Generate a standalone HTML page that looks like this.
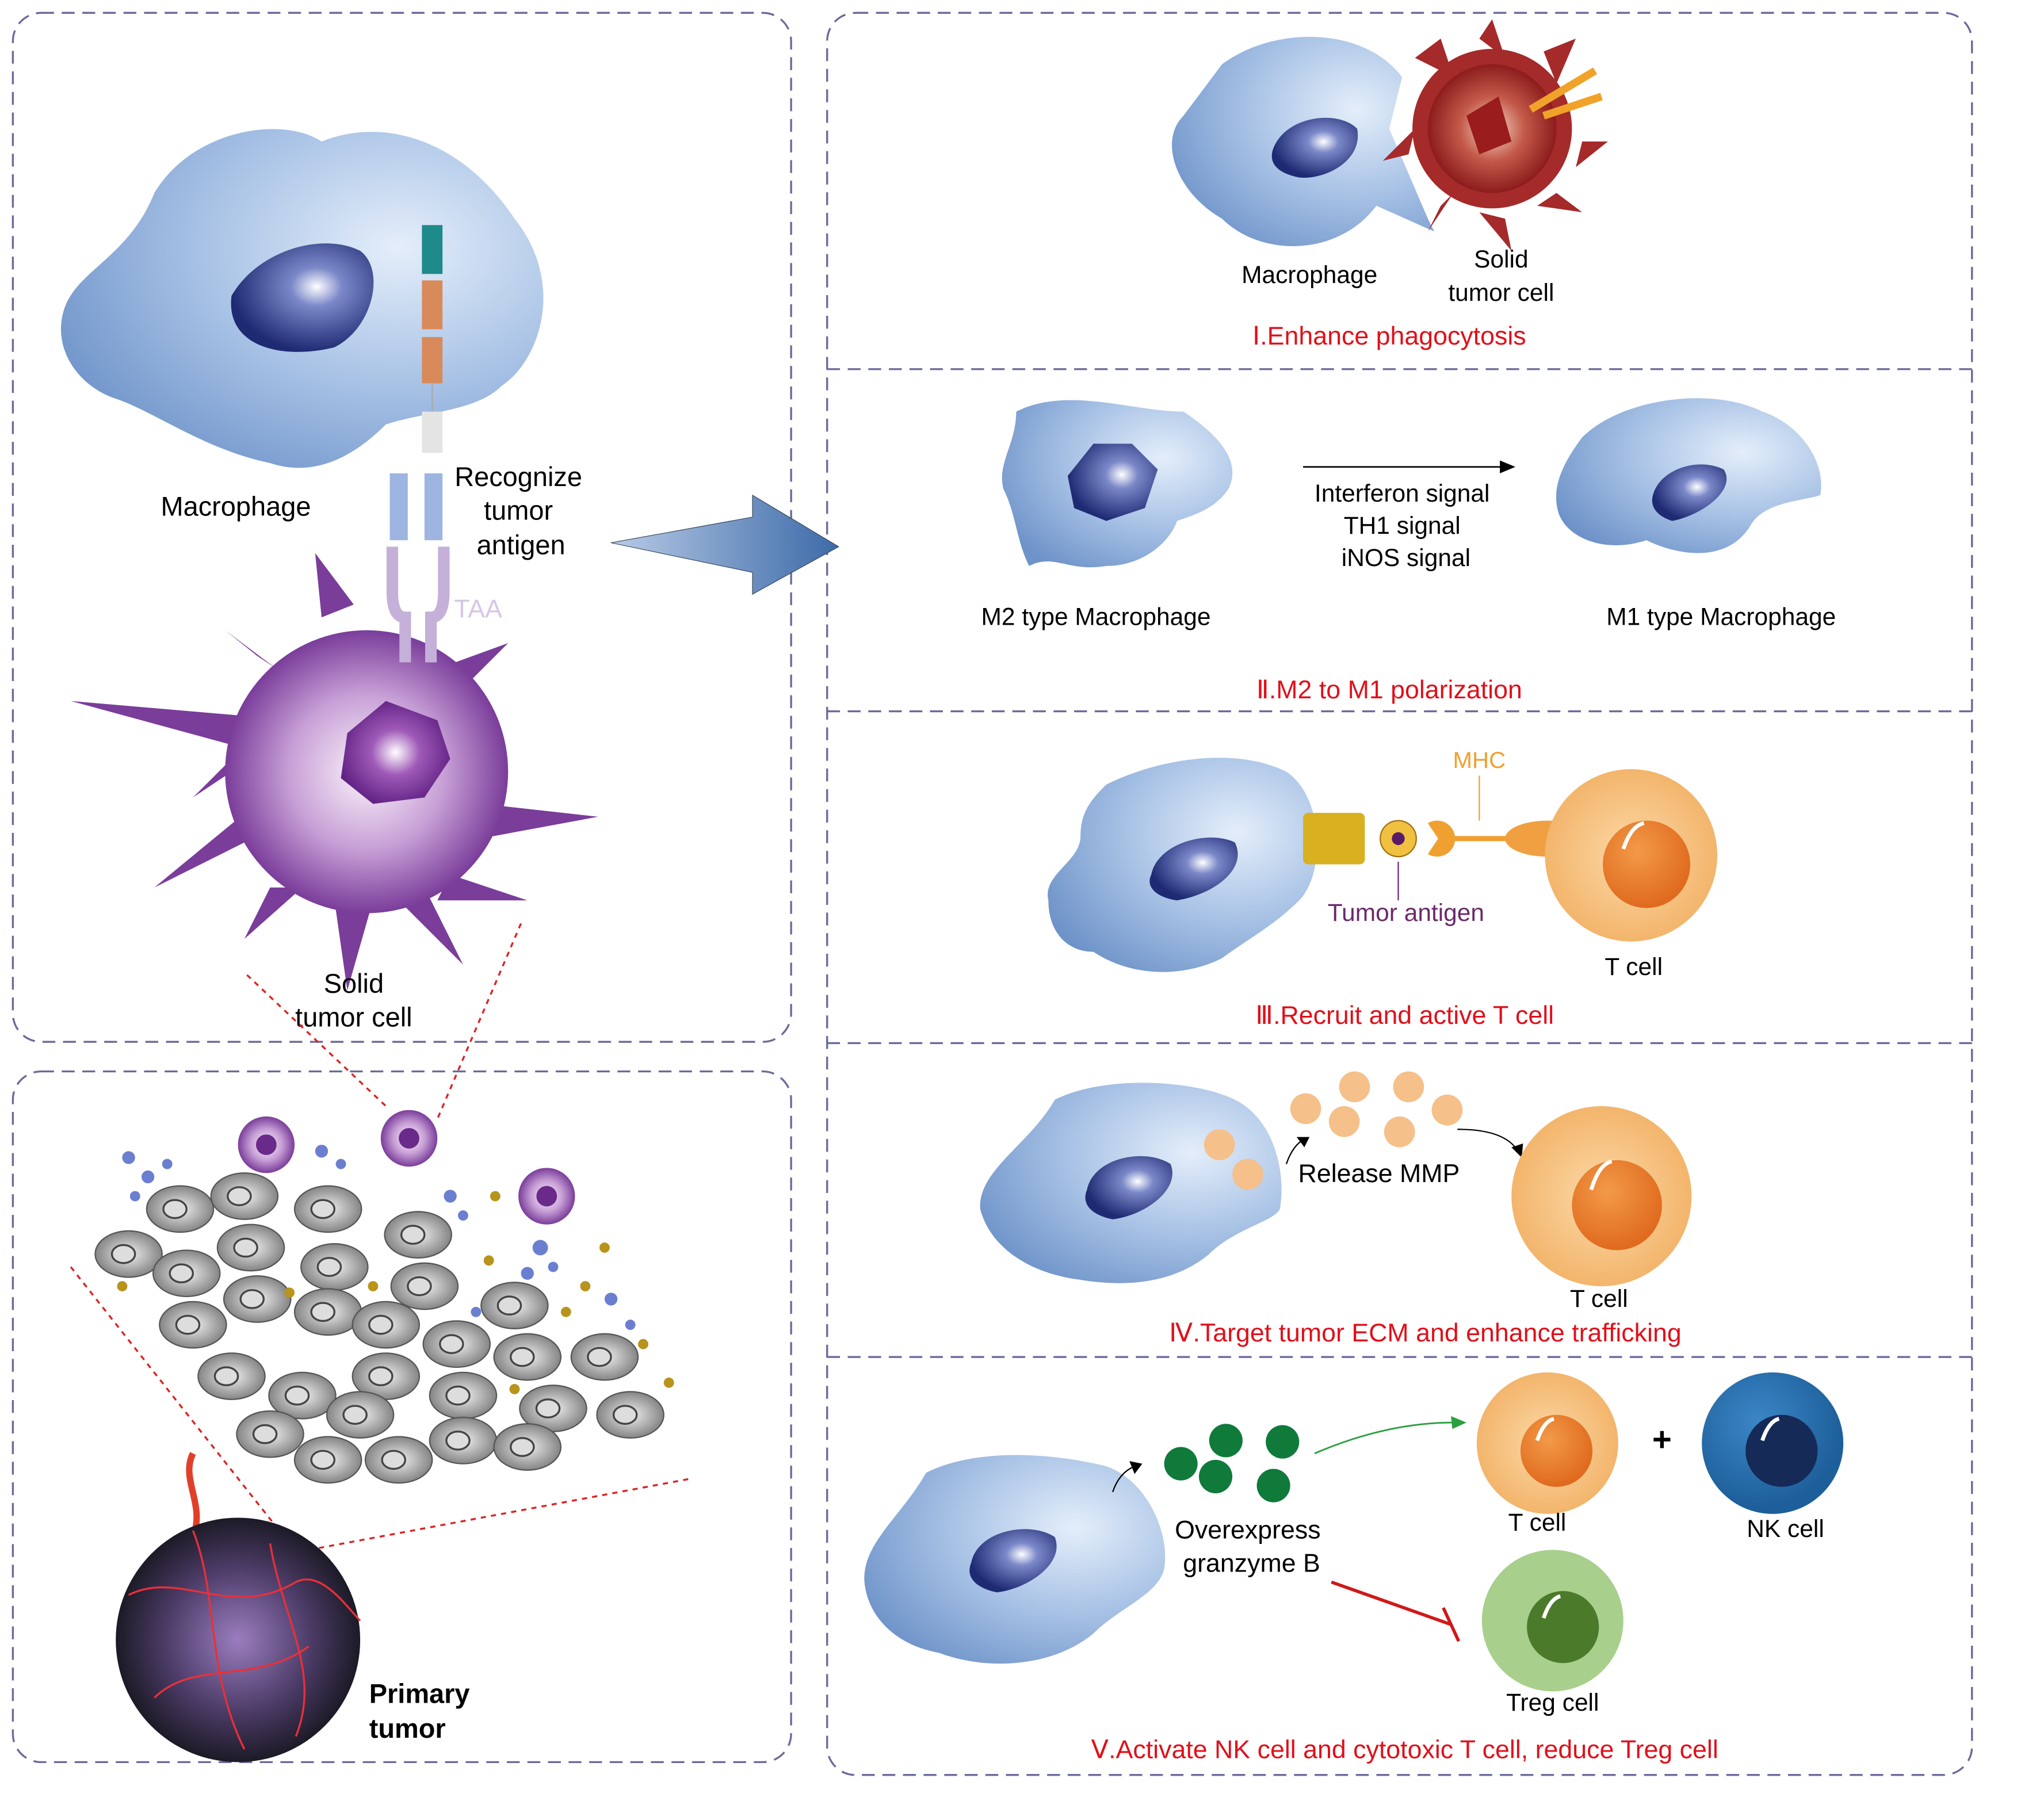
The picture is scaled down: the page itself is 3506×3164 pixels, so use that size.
<!DOCTYPE html>
<html><head><meta charset="utf-8"><style>
html,body{margin:0;padding:0;background:#fff;}
svg{display:block;}
text{font-family:"Liberation Sans",Arial,sans-serif;}
</style></head><body>
<svg width="3506" height="3164" viewBox="0 0 1568 1415" preserveAspectRatio="none" xmlns="http://www.w3.org/2000/svg">
<defs>
<radialGradient id="mac" cx="0.7" cy="0.35" r="0.8"><stop offset="0" stop-color="#e4eefa"/><stop offset="0.5" stop-color="#a9c3e6"/><stop offset="1" stop-color="#6e93c9"/></radialGradient>
<radialGradient id="nuc" cx="0.6" cy="0.4" r="0.6"><stop offset="0" stop-color="#ffffff"/><stop offset="0.3" stop-color="#7a87c8"/><stop offset="1" stop-color="#1e2a72"/></radialGradient>
<radialGradient id="tum" cx="0.5" cy="0.5" r="0.5"><stop offset="0" stop-color="#fbf4fb"/><stop offset="0.55" stop-color="#c79fd6"/><stop offset="1" stop-color="#7a3d9a"/></radialGradient>
<radialGradient id="tnuc" cx="0.5" cy="0.5" r="0.55"><stop offset="0" stop-color="#ffffff"/><stop offset="0.4" stop-color="#a05ab8"/><stop offset="1" stop-color="#5c1e80"/></radialGradient>
<radialGradient id="red" cx="0.5" cy="0.5" r="0.5"><stop offset="0" stop-color="#f3d9cc"/><stop offset="0.5" stop-color="#c45a4a"/><stop offset="1" stop-color="#8c1c1c"/></radialGradient>
<radialGradient id="tc" cx="0.5" cy="0.5" r="0.5"><stop offset="0" stop-color="#fbd9a8"/><stop offset="1" stop-color="#f3b56c"/></radialGradient>
<radialGradient id="tcn" cx="0.4" cy="0.35" r="0.65"><stop offset="0" stop-color="#f29a48"/><stop offset="1" stop-color="#e06a1e"/></radialGradient>
<radialGradient id="nk" cx="0.4" cy="0.35" r="0.6"><stop offset="0" stop-color="#3b86c6"/><stop offset="1" stop-color="#1d5f9a"/></radialGradient>
<radialGradient id="gr" cx="0.5" cy="0.5" r="0.55"><stop offset="0" stop-color="#f0f0f0"/><stop offset="1" stop-color="#7a7a7a"/></radialGradient>
<radialGradient id="pt" cx="0.5" cy="0.5" r="0.5"><stop offset="0" stop-color="#9b7dbf"/><stop offset="0.6" stop-color="#4b3b66"/><stop offset="1" stop-color="#1c1a26"/></radialGradient>
<linearGradient id="arr" x1="0" y1="0" x2="1" y2="0"><stop offset="0" stop-color="#b8cbe6"/><stop offset="1" stop-color="#3d6aa8"/></linearGradient>
<g id="gcell"><ellipse cx="0" cy="0" rx="26" ry="18" fill="url(#gr)" stroke="#555" stroke-width="1"/><ellipse cx="-4" cy="0" rx="9" ry="7" fill="#ddd" stroke="#444" stroke-width="1.5"/></g>
</defs>

<!-- panels -->
<g fill="none" stroke="#6a6a9a" stroke-width="1.5" stroke-dasharray="10,6">
<rect x="10" y="10" width="605" height="800" rx="22"/>
<rect x="10" y="833" width="605" height="537" rx="22"/>
<rect x="643" y="10" width="890" height="1370" rx="22"/>
<line x1="643" y1="287" x2="1533" y2="287"/>
<line x1="643" y1="553" x2="1533" y2="553"/>
<line x1="643" y1="811" x2="1533" y2="811"/>
<line x1="643" y1="1055" x2="1533" y2="1055"/>
</g>

<!-- left top macrophage -->
<path d="M120,150 C150,100 220,90 250,110 C300,90 360,110 400,170 C440,220 420,280 390,300 C370,320 330,320 300,330 C270,360 240,370 210,360 C160,350 120,320 90,310 C60,300 40,270 50,240 C60,210 100,200 120,150Z" fill="url(#mac)"/>
<path d="M180,230 C200,195 250,180 280,195 C300,210 290,255 260,270 C220,280 175,270 180,230Z" fill="url(#nuc)"/>
<!-- receptor -->
<rect x="328" y="175" width="16" height="38" fill="#1e8a8a"/>
<rect x="328" y="218" width="16" height="38" fill="#d98a5a"/>
<rect x="328" y="262" width="16" height="36" fill="#d98a5a"/>
<line x1="336" y1="298" x2="336" y2="320" stroke="#aaa"/>
<rect x="328" y="320" width="16" height="32" fill="#e4e4e4"/>
<rect x="303" y="368" width="14" height="52" fill="#9db5e0"/>
<rect x="330" y="368" width="14" height="52" fill="#9db5e0"/>
<!-- solid tumor cell -->
<g fill="#7a3d9a">
<path d="M55,545 L230,560 L220,590Z"/>
<path d="M330,620 L465,635 L330,660Z"/>
<path d="M250,480 L245,430 L275,470Z"/>
<path d="M200,510 L175,490 L215,520Z"/>
<path d="M340,520 L395,500 L350,545Z"/>
<path d="M350,680 L410,700 L340,700Z"/>
<path d="M330,690 L360,750 L310,700Z"/>
<path d="M260,700 L270,770 L290,700Z"/>
<path d="M210,690 L190,730 L235,690Z"/>
<path d="M200,650 L120,690 L205,620Z"/>
<path d="M195,590 L150,620 L200,570Z"/>
</g>
<circle cx="285" cy="600" r="110" fill="url(#tum)"/>
<path d="M270,570 L300,545 L340,560 L350,590 L330,620 L290,625 L265,605Z" fill="url(#tnuc)"/>
<!-- TAA -->
<path d="M305,425 L305,460 Q305,480 315,480 L315,515 M345,425 L345,460 Q345,480 335,480 L335,515" stroke="#c4b0d8" stroke-width="9" fill="none"/>
<text x="353" y="480" font-size="20" fill="#d6c6e6">TAA</text>
<text x="125" y="401" font-size="21">Macrophage</text>
<text x="403" y="378" font-size="21" text-anchor="middle">Recognize</text>
<text x="403" y="404" font-size="21" text-anchor="middle">tumor</text>
<text x="405" y="431" font-size="21" text-anchor="middle">antigen</text>
<text x="275" y="772" font-size="21" text-anchor="middle">Solid</text>
<text x="275" y="798" font-size="21" text-anchor="middle">tumor cell</text>
<!-- big arrow -->
<path d="M475,422 L585,402 L585,385 L652,425 L585,462 L585,445Z" fill="url(#arr)" stroke="#345" stroke-width="0.5"/>
<!-- dotted red lines -->
<g stroke="#d22" stroke-width="1.5" stroke-dasharray="4,4" fill="none">
<line x1="192" y1="758" x2="300" y2="860"/><line x1="405" y1="718" x2="340" y2="870"/>
<line x1="55" y1="985" x2="225" y2="1200"/><line x1="535" y1="1150" x2="240" y2="1205"/>
</g>

<!-- bottom left tissue -->
<g>
<use href="#gcell" x="100" y="975"/><use href="#gcell" x="145" y="990"/><use href="#gcell" x="190" y="930"/><use href="#gcell" x="140" y="940"/>
<use href="#gcell" x="255" y="940"/><use href="#gcell" x="195" y="970"/><use href="#gcell" x="260" y="985"/><use href="#gcell" x="325" y="960"/>
<use href="#gcell" x="150" y="1030"/><use href="#gcell" x="200" y="1010"/><use href="#gcell" x="255" y="1020"/><use href="#gcell" x="330" y="1000"/>
<use href="#gcell" x="400" y="1015"/><use href="#gcell" x="300" y="1030"/><use href="#gcell" x="180" y="1070"/><use href="#gcell" x="235" y="1085"/>
<use href="#gcell" x="300" y="1070"/><use href="#gcell" x="355" y="1045"/><use href="#gcell" x="410" y="1055"/><use href="#gcell" x="470" y="1055"/>
<use href="#gcell" x="210" y="1115"/><use href="#gcell" x="280" y="1100"/><use href="#gcell" x="360" y="1085"/><use href="#gcell" x="430" y="1095"/>
<use href="#gcell" x="490" y="1100"/><use href="#gcell" x="255" y="1135"/><use href="#gcell" x="310" y="1135"/><use href="#gcell" x="360" y="1120"/><use href="#gcell" x="410" y="1125"/>
</g>
<g fill="#b8941c"><circle cx="95" cy="1000" r="4"/><circle cx="225" cy="1005" r="4"/><circle cx="290" cy="1000" r="4"/><circle cx="380" cy="980" r="4"/><circle cx="440" cy="1020" r="4"/><circle cx="470" cy="970" r="4"/><circle cx="500" cy="1045" r="4"/><circle cx="520" cy="1075" r="4"/><circle cx="385" cy="930" r="4"/><circle cx="455" cy="1000" r="4"/><circle cx="400" cy="1080" r="4"/><circle cx="335" cy="890" r="4"/></g>
<g fill="#6b7fd0"><circle cx="100" cy="900" r="5"/><circle cx="115" cy="915" r="5"/><circle cx="130" cy="905" r="4"/><circle cx="105" cy="930" r="4"/><circle cx="350" cy="930" r="5"/><circle cx="360" cy="945" r="4"/><circle cx="420" cy="970" r="6"/><circle cx="410" cy="990" r="5"/><circle cx="430" cy="985" r="4"/><circle cx="475" cy="1010" r="5"/><circle cx="490" cy="1030" r="4"/><circle cx="370" cy="1020" r="4"/><circle cx="250" cy="895" r="5"/><circle cx="265" cy="905" r="4"/></g>
<g><circle cx="207" cy="890" r="22" fill="url(#tum)"/><circle cx="207" cy="890" r="8" fill="#6a2a8a"/>
<circle cx="318" cy="885" r="22" fill="url(#tum)"/><circle cx="318" cy="885" r="8" fill="#6a2a8a"/>
<circle cx="425" cy="930" r="22" fill="url(#tum)"/><circle cx="425" cy="930" r="8" fill="#6a2a8a"/></g>
<!-- primary tumor -->
<path d="M150,1130 C140,1150 160,1170 150,1195" stroke="#e0402a" stroke-width="5" fill="none"/>
<circle cx="185" cy="1275" r="95" fill="url(#pt)"/>
<g stroke="#e8303a" stroke-width="1.5" fill="none"><path d="M100,1240 C140,1220 180,1260 230,1230 C250,1220 270,1250 280,1260"/><path d="M120,1320 C150,1290 200,1310 240,1280"/><path d="M150,1190 C170,1240 160,1300 190,1360"/><path d="M210,1200 C220,1260 250,1300 230,1350"/></g>
<text x="287" y="1324" font-size="21" font-weight="bold">Primary</text>
<text x="287" y="1351" font-size="21" font-weight="bold">tumor</text>

<!-- I -->
<path d="M950,50 C990,20 1060,20 1090,60 L1080,100 L1110,170 L1115,180 L1070,160 C1040,200 980,200 950,170 C915,150 900,110 920,90 Z" fill="url(#mac)"/>
<path d="M990,115 C1000,90 1040,85 1055,100 C1060,125 1030,140 1010,138 C995,135 985,128 990,115Z" fill="url(#nuc)"/>
<g fill="#a52a2a"><circle cx="1160" cy="100" r="62"/>
<path d="M1100,45 L1120,30 L1130,60Z M1150,30 L1160,15 L1170,45Z M1200,40 L1225,30 L1210,65Z M1230,110 L1250,110 L1225,130Z M1210,150 L1230,165 L1195,160Z M1170,170 L1175,195 L1150,165Z M1120,160 L1110,180 L1130,150Z M1095,120 L1075,125 L1100,100Z"/></g>
<circle cx="1160" cy="100" r="50" fill="url(#red)"/>
<path d="M1140,90 L1165,75 L1175,110 L1150,120Z" fill="#9a1c1c"/>
<path d="M1190,85 L1240,55 M1200,90 L1245,75" stroke="#f1a22a" stroke-width="6"/>
<text x="1018" y="220" font-size="19" text-anchor="middle">Macrophage</text>
<text x="1167" y="208" font-size="19" text-anchor="middle">Solid</text>
<text x="1167" y="234" font-size="19" text-anchor="middle">tumor cell</text>
<text x="1080" y="268" font-size="20" fill="#e0101a" text-anchor="middle">Ⅰ.Enhance phagocytosis</text>

<!-- II -->
<path d="M790,320 C830,300 880,320 920,320 C950,340 965,360 955,380 C945,395 930,400 915,405 C910,420 890,440 860,440 C830,445 820,430 800,440 C790,420 790,400 780,380 C775,360 790,345 790,320Z" fill="url(#mac)"/>
<path d="M830,370 L850,345 L880,345 L900,365 L890,395 L860,405 L835,395Z" fill="url(#nuc)"/>
<path d="M1230,340 C1260,310 1330,300 1370,320 C1400,330 1420,360 1415,385 C1400,390 1370,390 1360,410 C1340,440 1300,430 1280,420 C1250,430 1220,420 1212,400 C1205,380 1215,360 1230,340Z" fill="url(#mac)"/>
<path d="M1285,385 C1290,365 1320,355 1340,365 C1350,380 1325,400 1300,405 C1290,402 1282,395 1285,385Z" fill="url(#nuc)"/>
<line x1="1013" y1="363" x2="1170" y2="363" stroke="#000" stroke-width="1.2"/>
<path d="M1178,363 L1166,358 L1166,368Z"/>
<text x="1090" y="390" font-size="19" text-anchor="middle">Interferon signal</text>
<text x="1090" y="415" font-size="19" text-anchor="middle">TH1 signal</text>
<text x="1093" y="440" font-size="19" text-anchor="middle">iNOS signal</text>
<text x="852" y="486" font-size="19" text-anchor="middle">M2 type Macrophage</text>
<text x="1338" y="486" font-size="19" text-anchor="middle">M1 type Macrophage</text>
<text x="1080" y="543" font-size="20" fill="#e0101a" text-anchor="middle">Ⅱ.M2 to M1 polarization</text>

<!-- III -->
<path d="M860,610 C900,590 960,580 1000,600 C1030,620 1030,680 1010,700 C990,720 970,730 950,745 C920,760 880,760 850,740 C830,740 815,725 815,700 C810,680 840,670 840,650 C840,630 850,620 860,610Z" fill="url(#mac)"/>
<path d="M895,680 C900,655 940,645 960,655 C970,675 945,695 915,700 C900,698 890,690 895,680Z" fill="url(#nuc)"/>
<rect x="1013" y="632" width="48" height="40" rx="4" fill="#d8b020"/>
<circle cx="1087" cy="652" r="14" fill="#f0c040" stroke="#a07010"/><circle cx="1087" cy="652" r="5" fill="#5a1a6a"/>
<path d="M1110,640 A14,14 0 1,1 1110,664 L1118,652Z" fill="#f0a030"/>
<line x1="1130" y1="652" x2="1175" y2="652" stroke="#f0a030" stroke-width="4"/>
<ellipse cx="1203" cy="652" rx="33" ry="14" fill="#f0a040"/>
<circle cx="1268" cy="665" r="67" fill="url(#tc)"/>
<circle cx="1280" cy="672" r="34" fill="url(#tcn)"/>
<path d="M1262,660 Q1268,642 1278,640" stroke="#fff" stroke-width="3" fill="none"/>
<text x="1150" y="597" font-size="18" fill="#f0a030" text-anchor="middle">MHC</text>
<line x1="1150" y1="603" x2="1150" y2="638" stroke="#f0a030"/>
<line x1="1087" y1="670" x2="1087" y2="700" stroke="#6a2a6a"/>
<text x="1093" y="716" font-size="19" fill="#6a2a6a" text-anchor="middle">Tumor antigen</text>
<text x="1270" y="758" font-size="19" text-anchor="middle">T cell</text>
<text x="1092" y="796" font-size="20" fill="#e0101a" text-anchor="middle">Ⅲ.Recruit and active T cell</text>

<!-- IV -->
<path d="M820,855 C860,835 930,840 960,855 C990,870 1000,910 995,940 C990,950 960,955 940,975 C910,1000 870,1000 840,995 C800,990 770,970 762,940 C760,910 800,890 820,855Z" fill="url(#mac)"/>
<path d="M845,925 C850,900 890,892 910,905 C918,925 890,945 865,948 C850,945 840,937 845,925Z" fill="url(#nuc)"/>
<g fill="#f5c08a"><circle cx="948" cy="890" r="12"/><circle cx="970" cy="913" r="12"/><circle cx="1015" cy="862" r="12"/><circle cx="1053" cy="845" r="12"/><circle cx="1045" cy="872" r="12"/><circle cx="1095" cy="845" r="12"/><circle cx="1125" cy="863" r="12"/><circle cx="1088" cy="880" r="12"/></g>
<path d="M1000,905 Q1005,890 1015,885" stroke="#000" fill="none"/><path d="M1018,884 L1008,884 L1014,892Z"/>
<path d="M1133,878 Q1170,878 1180,895" stroke="#000" fill="none"/><path d="M1183,900 L1175,892 L1184,889Z"/>
<text x="1072" y="919" font-size="20" text-anchor="middle">Release MMP</text>
<circle cx="1245" cy="930" r="70" fill="url(#tc)"/>
<circle cx="1257" cy="937" r="35" fill="url(#tcn)"/>
<path d="M1237,925 Q1243,905 1253,903" stroke="#fff" stroke-width="3" fill="none"/>
<text x="1243" y="1016" font-size="19" text-anchor="middle">T cell</text>
<text x="1108" y="1043" font-size="20" fill="#e0101a" text-anchor="middle">Ⅳ.Target tumor ECM and enhance trafficking</text>

<!-- V -->
<path d="M720,1145 C760,1125 820,1130 860,1140 C890,1150 910,1190 905,1220 C900,1240 870,1250 850,1270 C820,1295 770,1300 730,1285 C700,1280 675,1260 672,1230 C670,1200 700,1180 720,1145Z" fill="url(#mac)"/>
<path d="M755,1215 C760,1190 800,1182 820,1195 C828,1215 800,1235 775,1238 C760,1235 750,1227 755,1215Z" fill="url(#nuc)"/>
<path d="M865,1160 Q870,1145 882,1140" stroke="#000" fill="none"/><path d="M888,1138 L878,1136 L882,1146Z"/>
<g fill="#0f7a3a"><circle cx="918" cy="1138" r="13"/><circle cx="953" cy="1120" r="13"/><circle cx="945" cy="1148" r="13"/><circle cx="997" cy="1121" r="13"/><circle cx="990" cy="1155" r="13"/></g>
<path d="M1022,1130 Q1080,1105 1135,1106" stroke="#2aa040" fill="none" stroke-width="1.3"/><path d="M1140,1106 L1128,1101 L1129,1111Z" fill="#2aa040"/>
<text x="970" y="1196" font-size="20" text-anchor="middle">Overexpress</text>
<text x="973" y="1222" font-size="20" text-anchor="middle">granzyme B</text>
<line x1="1035" y1="1230" x2="1128" y2="1263" stroke="#d01818" stroke-width="2.5"/>
<line x1="1122" y1="1250" x2="1134" y2="1276" stroke="#d01818" stroke-width="2.5"/>
<circle cx="1203" cy="1122" r="55" fill="url(#tc)"/>
<circle cx="1210" cy="1128" r="28" fill="url(#tcn)"/>
<path d="M1195,1120 Q1200,1105 1208,1103" stroke="#fff" stroke-width="3" fill="none"/>
<text x="1195" y="1190" font-size="19" text-anchor="middle">T cell</text>
<text x="1292" y="1128" font-size="26" font-weight="bold" text-anchor="middle">+</text>
<circle cx="1378" cy="1122" r="55" fill="url(#nk)"/>
<circle cx="1385" cy="1128" r="28" fill="#162a58"/>
<path d="M1370,1120 Q1375,1105 1383,1103" stroke="#fff" stroke-width="3" fill="none"/>
<text x="1388" y="1195" font-size="19" text-anchor="middle">NK cell</text>
<circle cx="1207" cy="1260" r="55" fill="#a8cf8c"/>
<circle cx="1215" cy="1265" r="28" fill="#4a7a2a"/>
<path d="M1200,1258 Q1205,1243 1213,1241" stroke="#fff" stroke-width="3" fill="none"/>
<text x="1207" y="1330" font-size="19" text-anchor="middle">Treg cell</text>
<text x="1092" y="1367" font-size="20" fill="#e0101a" text-anchor="middle">Ⅴ.Activate NK cell and cytotoxic T cell, reduce Treg cell</text>
</svg>
</body></html>
